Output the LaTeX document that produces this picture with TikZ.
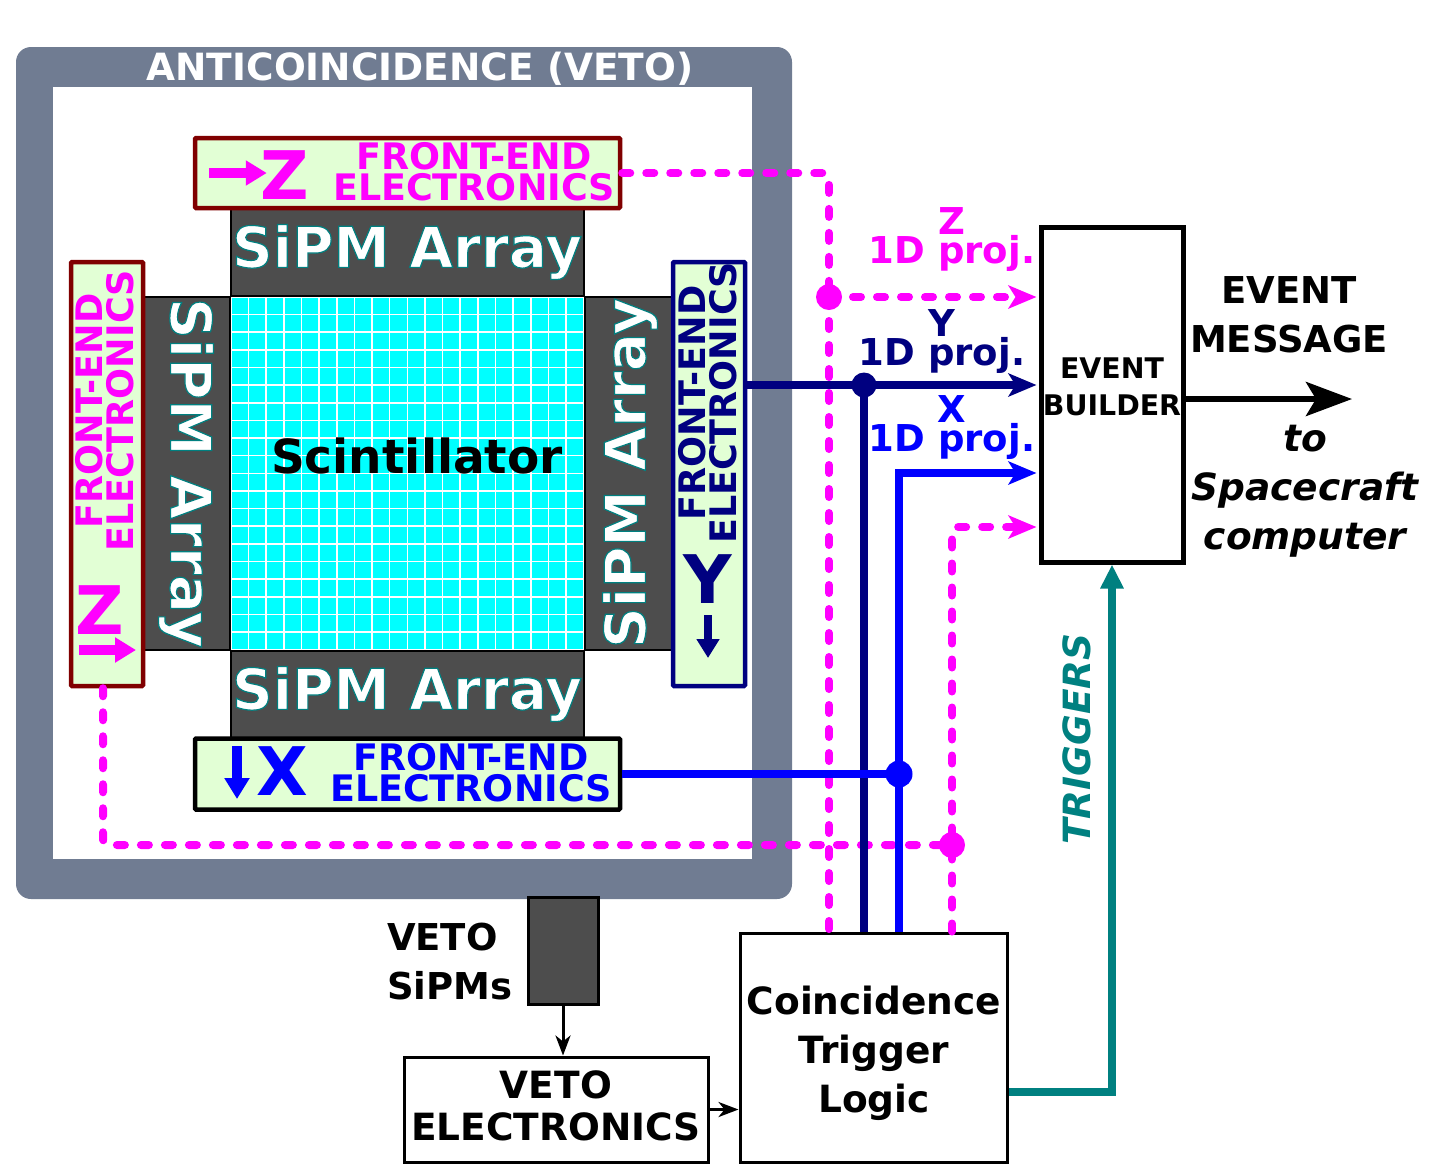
\documentclass[tikz,border=0pt]{standalone}
\usepackage{fontspec}
\setmainfont{DejaVu Sans}
\usetikzlibrary{arrows.meta, positioning, calc}
\definecolor{vetoframe}{RGB}{112,124,146}
\definecolor{fefill}{RGB}{226,255,213}
\definecolor{sipmgray}{RGB}{77,77,77}
\definecolor{zred}{RGB}{128,0,0}
\definecolor{ynavy}{RGB}{0,0,128}
\definecolor{trigteal}{RGB}{0,128,128}
\definecolor{sigmagenta}{RGB}{255,0,255}
\definecolor{sigblue}{RGB}{0,0,255}
\definecolor{scintcyan}{RGB}{0,255,255}
% white letters with a thin teal edge
\newcommand{\edged}[1]{\special{pdf:code 2 Tr 1.2 w 0 0.5 0.5 RG}#1\special{pdf:code 0 Tr}}
\newcommand{\px}[2]{\fontsize{#1}{#2}\selectfont}

\begin{document}
\begin{tikzpicture}[
    x=1pt, y=-1pt,
    % Styles
    box_fe/.style={rectangle, fill=fefill, line width=4.5pt, rounded corners=1pt},
    box_sipm/.style={rectangle, fill=sipmgray, draw=black, line width=2pt},
    box_logic/.style={rectangle, draw=black, line width=3pt, fill=white, align=center, font=\bfseries\px{37.5}{49}},
    text_fe/.style={inner sep=0pt, align=center, font=\bfseries\px{36.5}{31}},
    text_axis/.style={inner sep=0pt, font=\bfseries\px{67}{67}},
    text_sipm/.style={inner sep=0pt, text=white, font=\bfseries\px{56.5}{60}},
    text_proj/.style={inner sep=0pt, align=center, font=\bfseries\px{37}{29}},
    text_note/.style={inner sep=0pt, align=center, font=\bfseries\px{37}{49}},
    dir_arrow/.style={-{Triangle[length=21pt,width=24pt]}, line width=10pt},
    tap/.style={circle, inner sep=0pt, minimum size=#1},
    line_z/.style={sigmagenta, line width=8pt, dash pattern=on 8pt off 16pt, line cap=round, rounded corners=6pt},
    line_sig/.style={line width=8pt},
    tip_sig/.style={shorten >=2pt, -{Stealth[length=28pt,width=23pt,inset=7pt]}},
    line_thin/.style={draw=black, line width=3pt, -{Stealth[length=20pt,width=15pt,inset=6pt]}}
]
    \useasboundingbox (0,0) rectangle (1431,1163);

    % --- VETO FRAME ---
    \node [rectangle, fill=vetoframe, rounded corners=15pt, minimum width=776pt, minimum height=852pt] (veto_outer) at (404,473) {};
    \node [rectangle, fill=white, minimum width=699pt, minimum height=772pt] (veto_inner) at (402.5,473) {};
    \node [inner sep=0pt, text=white, font=\bfseries\px{37.5}{40}] (veto_title) at (420,69) {ANTICOINCIDENCE (VETO)};

    % --- SCINTILLATOR AND SIPM ARRAYS ---
    \node [rectangle, fill=scintcyan, minimum size=353pt] (scint) at (407.5,473.5) {};
    \foreach \i in {0,...,20} {
        \draw [white, line width=1.6pt] ($(scint.north west)+(\i*17.65,0)$) -- ($(scint.south west)+(\i*17.65,0)$);
        \draw [white, line width=1.6pt] ($(scint.north west)+(0,\i*17.65)$) -- ($(scint.north east)+(0,\i*17.65)$);
    }
    \node [inner sep=0pt, font=\bfseries\px{47}{48}] (scint_label) at (417,456) {Scintillator};

    \node [box_sipm, minimum width=353pt, minimum height=89pt, above=0pt of scint] (sipm_top) {};
    \node [box_sipm, minimum width=353pt, minimum height=88pt, below=0pt of scint] (sipm_bottom) {};
    \node [box_sipm, minimum width=87pt, minimum height=353pt, left=0pt of scint] (sipm_left) {};
    \node [box_sipm, minimum width=88pt, minimum height=353pt, right=0pt of scint] (sipm_right) {};
    \node [text_sipm] at (407,252) {\edged{SiPM Array}};
    \node [text_sipm] at (407,694) {\edged{SiPM Array}};
    \node [text_sipm, rotate=-90] at (186,473) {\edged{SiPM Array}};
    \node [text_sipm, rotate=90] at (630,473) {\edged{SiPM Array}};

    % --- FRONT-END BOXES ---
    \node [box_fe, draw=zred, minimum width=425pt, minimum height=70pt] (fe_z) at (407.5,173) {};
    \node [box_fe, draw=black, minimum width=425pt, minimum height=71pt] (fe_x) at (407.5,774) {};
    \node [box_fe, draw=zred, minimum width=72pt, minimum height=424pt] (fe_left) at (107,474) {};
    \node [box_fe, draw=ynavy, minimum width=72pt, minimum height=424pt] (fe_y) at (709,474) {};

    \node [text_fe, text=sigmagenta] (fe_z_label) at (474,172) {FRONT-END\\ELECTRONICS};
    \node [text_fe, text=sigblue] (fe_x_label) at (471,773) {FRONT-END\\ELECTRONICS};
    \node [text_fe, text=sigmagenta, rotate=90] (fe_left_label) at (105,411) {FRONT-END\\ELECTRONICS};
    \node [text_fe, text=ynavy, rotate=90] (fe_y_label) at (708,403) {FRONT-END\\ELECTRONICS};

    \node [text_axis, text=sigmagenta] (axis_z) at (285,175) {Z};
    \node [text_axis, text=sigblue] (axis_x) at (282,771) {X};
    \node [text_axis, text=sigmagenta] (axis_left) at (100,610) {Z};
    \node [text_axis, text=ynavy] (axis_y) at (708,579) {Y};

    \draw [dir_arrow, sigmagenta] ($(fe_z.west)+(16,0)$) -- ++(58,0);
    \draw [dir_arrow, sigblue] (237,746) -- (237,799);
    \draw [dir_arrow, sigmagenta] (79,650) -- (136,650);
    \draw [dir_arrow, ynavy, line width=8pt, -{Triangle[length=19pt,width=22pt]}] (708,615) -- (708,658);

    % --- RIGHT HAND BLOCKS ---
    \node [rectangle, draw=black, line width=5pt, fill=white, minimum width=142pt, minimum height=335pt] (builder) at (1112,394.5) {};
    \node [inner sep=0pt, align=center, font=\bfseries\px{28.4}{37}] (builder_label) at (1112,387) {EVENT\\BUILDER};
    \node [box_logic, minimum width=267pt, minimum height=229pt] (coinc) at (873.5,1047.5) {};
    \node [inner sep=0pt, align=center, font=\bfseries\px{37.5}{49}] (coinc_label) at (874,1053) {Coincidence\\Trigger\\Logic};
    \node [box_logic, minimum width=304pt, minimum height=105pt] (veto_elec) at (556,1109.5) {};
    \node [inner sep=0pt, align=center, font=\bfseries\px{37.5}{42}] (veto_elec_label) at (556,1106) {VETO\\ELECTRONICS};
    \node [box_sipm, line width=3pt, minimum width=70pt, minimum height=107pt] (veto_sipm) at (563,950.5) {};
    \node [inner sep=0pt, align=left, font=\bfseries\px{37}{49}, left=14pt of veto_sipm, yshift=-11pt] (veto_sipm_label) {VETO\\SiPMs};

    % --- LABELS ---
    \node [text_proj, text=sigmagenta] (proj_z) at (952,239.5) {Z\\\hspace*{0pt}1D proj.};
    \node [text_proj, text=ynavy] (proj_y) at (942,341) {Y\\\hspace*{0pt}1D proj.};
    \node [text_proj, text=sigblue] (proj_x) at (952,427.5) {X\\\hspace*{0pt}1D proj.};
    \node [text_note] (event_msg) at (1289,315) {EVENT\\MESSAGE};
    \node [text_note, font=\bfseries\itshape\px{37.5}{49}] (spacecraft) at (1305,491) {to\\Spacecraft\\computer};
    \node [text_note, text=trigteal, font=\bfseries\itshape\px{37.5}{40}, rotate=90] (trig_label) at (1077,739) {TRIGGERS};

    % --- JUNCTIONS ---
    \node [tap=26pt, fill=sigmagenta] (tap_z) at (829,297) {};
    \node [tap=25pt, fill=ynavy] (tap_y) at (864,385) {};
    \node [tap=27pt, fill=sigblue] (tap_x) at (899,774) {};
    \node [tap=26pt, fill=sigmagenta] (tap_left) at (952,845) {};
    \coordinate (in_x) at (builder.west |- 0,473);
    \coordinate (in_left) at (builder.west |- 0,527);
    \coordinate (drop_left) at (103,845);
    \coordinate (out_end) at (1352,399);
    \coordinate (trig_turn) at (1112,1092);

    % --- CONNECTIONS ---
    % Z and left side, dashed
    \draw [line_z] (fe_z.east) -| (tap_z.center);
    \draw [line_z] (tap_z.center) -- (tap_z |- coinc.north);
    \draw [line_z, shorten >=2pt, -{Stealth[length=28pt,width=23pt,inset=7pt]}] (tap_z.center) -- (tap_z -| builder.west);
    \draw [line_z] (drop_left |- fe_left.south) -- (drop_left) -- (tap_left.center);
    \draw [line_z, shorten >=2pt, -{Stealth[length=28pt,width=23pt,inset=7pt]}] (tap_left |- coinc.north) -- (tap_left |- in_left) -- (in_left);

    % Y and X
    \draw [line_sig, tip_sig, ynavy] (tap_y -| fe_y.east) -- (tap_y -| builder.west);
    \draw [line_sig, ynavy] (tap_y.center) -- (tap_y |- coinc.north);
    \draw [line_sig, sigblue] (fe_x.east) -- (tap_x.center);
    \draw [line_sig, tip_sig, sigblue] (tap_x |- coinc.north) -- (tap_x |- in_x) -- (in_x);

    % Output and triggers
    \draw [black, line width=6pt, -{Stealth[length=46pt,width=34pt,inset=10pt]}] (builder.east |- out_end) -- (out_end);
    \draw [trigteal, line width=8pt, -{Triangle[length=24pt,width=22pt]}] (coinc.east |- trig_turn) -- (trig_turn) -- (builder.south);
    \draw [line_thin] (veto_sipm.south) -- (veto_sipm.south |- veto_elec.north);
    \draw [line_thin] (veto_elec.east) -- (veto_elec -| coinc.west);

\end{tikzpicture}
\end{document}
